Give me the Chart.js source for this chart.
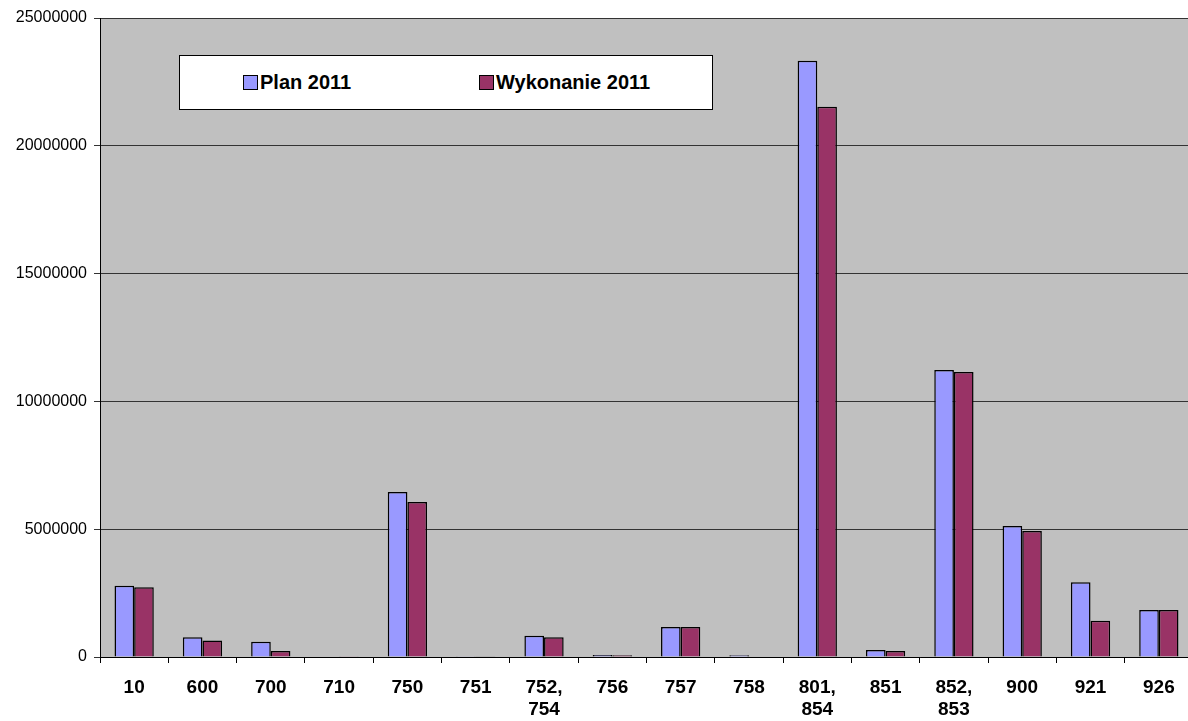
<!DOCTYPE html>
<html>
<head>
<meta charset="utf-8">
<script src="https://cdn.jsdelivr.net/npm/chart.js"></script>
<style>
  body { margin: 0; background: #fff; }
  #wrap { position: relative; width: 1188px; height: 721px; overflow: hidden; }
  #legend {
    position: absolute; left: 179px; top: 55px; width: 532px; height: 53px;
    background: #fff; border: 1px solid #000;
    font: bold 20px "Liberation Sans", Arial, sans-serif; color: #000;
  }
  .item { position: absolute; top: 15px; display: flex; align-items: center; line-height: 22px; }
  .sw { width: 13px; height: 13px; border: 1px solid #000; margin-right: 2px; }
</style>
</head>
<body>
<div id="wrap">
  <canvas id="chart" width="1200" height="721"></canvas>
  <div id="legend"></div>
</div>
<script>
const categories = ['10', '600', '700', '710', '750', '751', ['752,', '754'], '756', '757', '758', ['801,', '854'], '851', ['852,', '853'], '900', '921', '926'];
const plan2011 = [2790000, 770000, 600000, 15000, 6460000, 30000, 830000, 80000, 1170000, 70000, 23330000, 270000, 11230000, 5130000, 2920000, 1840000];
const wykonanie2011 = [2730000, 650000, 230000, 5000, 6060000, 25000, 770000, 70000, 1170000, 0, 21530000, 230000, 11150000, 4930000, 1420000, 1840000];
const yTicks = [0, 5000000, 10000000, 15000000, 20000000, 25000000];

const seriesNames = ['Plan 2011', 'Wykonanie 2011'];
const seriesColors = ['#9999ff', '#993366'];

const plotBg = {
  id: 'plotBg',
  beforeDraw(chart) {
    const a = chart.chartArea, c = chart.ctx;
    c.save();
    c.fillStyle = '#c0c0c0';
    c.fillRect(a.left, a.top, a.right - a.left, a.bottom - a.top);
    c.restore();
  }
};

const ctx = document.getElementById('chart').getContext('2d');
new Chart(ctx, {
  type: 'bar',
  data: {
    labels: categories,
    datasets: [
      { label: seriesNames[0], data: plan2011, backgroundColor: seriesColors[0], borderColor: '#000', borderWidth: 1.5 },
      { label: seriesNames[1], data: wykonanie2011, backgroundColor: seriesColors[1], borderColor: '#000', borderWidth: 1.5 }
    ]
  },
  options: {
    responsive: false,
    animation: false,
    layout: { padding: { top: 18, right: 7, left: 0, bottom: 0 } },
    plugins: { legend: { display: false }, tooltip: { enabled: false } },
    datasets: { bar: { categoryPercentage: 0.575, barPercentage: 1 } },
    scales: {
      x: {
        grid: { offset: true, drawOnChartArea: false, color: '#000', tickLength: 6 },
        border: { color: '#000', width: 1 },
        ticks: { color: '#000', font: { family: 'Liberation Sans, Arial', size: 19, weight: 'bold', lineHeight: 1.2 }, maxRotation: 0, autoSkip: false, padding: 13 },
        afterFit(s) { s.height = 64; }
      },
      y: {
        min: 0, max: 25000000,
        afterBuildTicks(s) { s.ticks = yTicks.map(v => ({ value: v })); },
        grid: { color: '#333', tickLength: 6 },
        border: { color: '#000', width: 1 },
        ticks: { color: '#000', font: { family: 'Liberation Sans, Arial', size: 16 }, padding: 7, callback: v => String(v) },
        afterFit(s) { s.width = 100; }
      }
    }
  },
  plugins: [plotBg]
});

const lg = document.getElementById('legend');
const xs = [63, 299];
seriesNames.forEach((n, i) => {
  const d = document.createElement('div');
  d.className = 'item';
  d.style.left = xs[i] + 'px';
  d.innerHTML = '<span class="sw" style="background:' + seriesColors[i] + '"></span>' + n;
  lg.appendChild(d);
});
</script>
</body>
</html>
